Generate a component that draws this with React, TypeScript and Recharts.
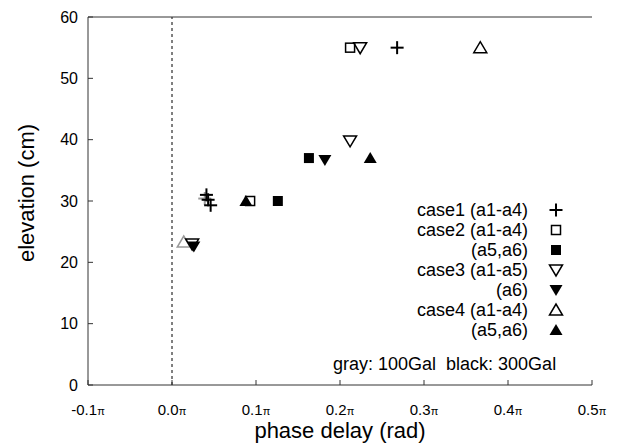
import React from 'react';
import { ScatterChart, Scatter, XAxis, YAxis, ReferenceLine } from 'recharts';

const xTicks = [-0.1, 0, 0.1, 0.2, 0.3, 0.4, 0.5];
const yTicks = [0, 10, 20, 30, 40, 50, 60];

// phase delay in units of pi, elevation in cm
const case1Black = [
  { x: 0.268, y: 55 },
  { x: 0.043, y: 30.2 },
  { x: 0.046, y: 29.3 },
  { x: 0.041, y: 31 },
];
const case1Gray = [{ x: 0.039, y: 30.4 }];
const case2A14 = [
  { x: 0.212, y: 55 },
  { x: 0.093, y: 30 },
];
const case2A56 = [
  { x: 0.163, y: 37 },
  { x: 0.126, y: 30 },
];
const case3A15 = [
  { x: 0.224, y: 55 },
  { x: 0.212, y: 39.8 },
  { x: 0.024, y: 23 },
];
const case3A6 = [
  { x: 0.182, y: 36.7 },
  { x: 0.026, y: 22.6 },
];
const case4A14 = [{ x: 0.367, y: 55 }];
const case4A14Gray = [{ x: 0.014, y: 23.3 }];
const case4A56 = [
  { x: 0.236, y: 37 },
  { x: 0.088, y: 30 },
];

const legendRows = [
  { label: 'case1 (a1-a4)', kind: 'plus' },
  { label: 'case2 (a1-a4)', kind: 'openSquare' },
  { label: '(a5,a6)', kind: 'filledSquare' },
  { label: 'case3 (a1-a5)', kind: 'openDown' },
  { label: '(a6)', kind: 'filledDown' },
  { label: 'case4 (a1-a4)', kind: 'openUp' },
  { label: '(a5,a6)', kind: 'filledUp' },
];

const FONT = '"Liberation Sans", Arial, Helvetica, sans-serif';

const drawMarker = (kind: string, cx: number, cy: number, color: string) => {
  const h = 6.5;
  switch (kind) {
    case 'plus':
      return (
        <g stroke={color} strokeWidth={2}>
          <line x1={cx - h} y1={cy} x2={cx + h} y2={cy} />
          <line x1={cx} y1={cy - h} x2={cx} y2={cy + h} />
        </g>
      );
    case 'openSquare':
      return <rect x={cx - 4.5} y={cy - 4.5} width={9} height={9} fill="none" stroke={color} strokeWidth={1.5} />;
    case 'filledSquare':
      return <rect x={cx - 5} y={cy - 5} width={10} height={10} fill={color} />;
    case 'openDown':
      return (
        <polygon
          points={`${cx - h},${cy - 5} ${cx + h},${cy - 5} ${cx},${cy + 6}`}
          fill="none"
          stroke={color}
          strokeWidth={1.5}
        />
      );
    case 'filledDown':
      return <polygon points={`${cx - h},${cy - 5} ${cx + h},${cy - 5} ${cx},${cy + 6}`} fill={color} />;
    case 'openUp':
      return (
        <polygon
          points={`${cx - h},${cy + 5} ${cx + h},${cy + 5} ${cx},${cy - 6}`}
          fill="none"
          stroke={color}
          strokeWidth={1.5}
        />
      );
    default:
      return <polygon points={`${cx - h},${cy + 5} ${cx + h},${cy + 5} ${cx},${cy - 6}`} fill={color} />;
  }
};

const shapeOf = (kind: string, color: string) => (props: any) => drawMarker(kind, props.cx, props.cy, color);

// x tick: number with a small pi after it
const PiTick = (props: any) => {
  const { x, y, payload } = props;
  return (
    <text x={x} y={y} dy={12} textAnchor="middle" fill="#000" fontFamily={FONT} fontSize={15}>
      <tspan>{payload.value.toFixed(1)}</tspan>
      <tspan fontSize={11}>π</tspan>
    </text>
  );
};

export default function App() {
  return (
    <div style={{ position: 'absolute', left: 0, top: 0, width: 620, height: 446, background: '#fff', fontFamily: FONT }}>
      <ScatterChart width={620} height={446} margin={{ top: 16, right: 28, bottom: 0, left: 0 }}>
        <XAxis
          type="number"
          dataKey="x"
          domain={[-0.1, 0.5]}
          ticks={xTicks}
          height={61}
          stroke="#333"
          tickSize={-5}
          tickMargin={23}
          tick={<PiTick />}
        />
        <XAxis
          xAxisId="top"
          orientation="top"
          type="number"
          dataKey="x"
          domain={[-0.1, 0.5]}
          ticks={xTicks}
          tickFormatter={() => ''}
          height={1}
          stroke="#333"
          tickSize={-5}
        />
        <YAxis
          type="number"
          dataKey="y"
          domain={[0, 60]}
          ticks={yTicks}
          width={88}
          stroke="#333"
          tickSize={-5}
          tickMargin={15}
          tick={{ fill: '#000', fontSize: 16, fontFamily: FONT }}
        />
        <YAxis
          yAxisId="right"
          orientation="right"
          type="number"
          dataKey="y"
          domain={[0, 60]}
          ticks={yTicks}
          tickFormatter={() => ''}
          width={0}
          stroke="#333"
          tickSize={-5}
        />
        <ReferenceLine x={0} stroke="#000" strokeDasharray="3 3" />
        <Scatter data={case1Gray} shape={shapeOf('plus', '#999')} isAnimationActive={false} />
        <Scatter data={case4A14Gray} shape={shapeOf('openUp', '#999')} isAnimationActive={false} />
        <Scatter data={case1Black} shape={shapeOf('plus', '#000')} isAnimationActive={false} />
        <Scatter data={case2A14} shape={shapeOf('openSquare', '#000')} isAnimationActive={false} />
        <Scatter data={case2A56} shape={shapeOf('filledSquare', '#000')} isAnimationActive={false} />
        <Scatter data={case3A15} shape={shapeOf('openDown', '#000')} isAnimationActive={false} />
        <Scatter data={case3A6} shape={shapeOf('filledDown', '#000')} isAnimationActive={false} />
        <Scatter data={case4A14} shape={shapeOf('openUp', '#000')} isAnimationActive={false} />
        <Scatter data={case4A56} shape={shapeOf('filledUp', '#000')} isAnimationActive={false} />
      </ScatterChart>

      {/* axis titles */}
      <div
        style={{
          position: 'absolute',
          left: 27,
          top: 193,
          transform: 'translate(-50%, -50%) rotate(-90deg)',
          fontSize: 22,
          whiteSpace: 'nowrap',
        }}
      >
        elevation (cm)
      </div>
      <div
        style={{
          position: 'absolute',
          left: 340,
          top: 431,
          transform: 'translate(-50%, -50%)',
          fontSize: 22,
          whiteSpace: 'nowrap',
        }}
      >
        phase delay (rad)
      </div>

      {/* legend */}
      {legendRows.map((row, i) => (
        <div
          key={i}
          style={{
            position: 'absolute',
            left: 328,
            width: 200,
            top: 210 + i * 20 - 11,
            height: 22,
            lineHeight: '22px',
            textAlign: 'right',
            fontSize: 18,
            whiteSpace: 'nowrap',
          }}
        >
          {row.label}
        </div>
      ))}
      <svg style={{ position: 'absolute', left: 540, top: 195, overflow: 'visible' }} width={30} height={150}>
        {legendRows.map((row, i) => (
          <g key={i}>{drawMarker(row.kind, 16, 210 + i * 20 - 195, '#000')}</g>
        ))}
      </svg>
      <div
        style={{
          position: 'absolute',
          left: 333,
          top: 353,
          height: 22,
          lineHeight: '22px',
          fontSize: 18,
          whiteSpace: 'pre',
        }}
      >
        {'gray: 100Gal  black: 300Gal'}
      </div>
    </div>
  );
}
